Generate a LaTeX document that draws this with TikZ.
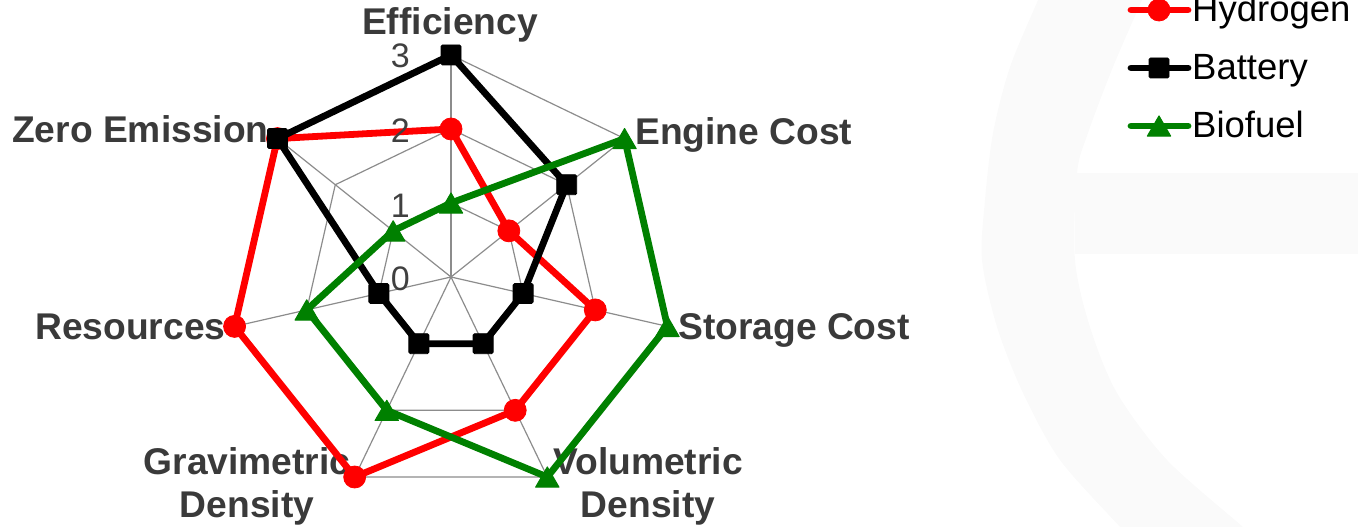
\documentclass[tikz,border=0pt]{standalone}
\usepackage{fontspec}
\setmainfont{Liberation Sans}
\usetikzlibrary{shapes.geometric}
\definecolor{hred}{RGB}{255,0,0}
\definecolor{bgreen}{RGB}{0,128,0}
\definecolor{gridc}{RGB}{140,140,140}
\definecolor{labc}{RGB}{58,58,58}
\definecolor{ticc}{RGB}{64,64,64}
\definecolor{bge}{RGB}{250,250,250}
\tikzset{
 gridline/.style={draw=gridc, line width=1.2pt},
 series/.style={line width=6.8pt, line join=round, line cap=round},
 hline/.style={series, draw=hred},
 bline/.style={series, draw=black},
 gline/.style={series, draw=bgreen},
 hmark/.style={circle, fill=hred, draw=hred, line width=0.8pt, minimum size=22pt, inner sep=0pt},
 bmark/.style={rectangle, rounded corners=1.5pt, fill=black, draw=black, line width=0.8pt, minimum size=20pt, inner sep=0pt},
 gmark/.style={regular polygon, regular polygon sides=3, fill=bgreen, draw=bgreen, line join=round, line width=1pt, minimum size=27pt, inner sep=0pt, yshift=-3.4pt},
 axlab/.style={font=\fontsize{37.2}{43}\selectfont\bfseries, text=labc, inner sep=0pt},
 ticklab/.style={font=\fontsize{34}{40}\selectfont, text=ticc, inner sep=0pt, anchor=east},
 leglab/.style={font=\fontsize{36.5}{43}\selectfont, text=black, inner sep=0pt, anchor=base west},
}
\newcommand{\radpt}[3]{\path (C) ++({90-#2*360/7}:{74*#3}) coordinate (#1);}
\begin{document}
\begin{tikzpicture}[x=1pt,y=1pt]
\useasboundingbox (0,0) rectangle (1358,527);
\clip (0,0) rectangle (1358,527);
% faint background "e"
\fill[bge] plot[smooth] coordinates {(1052,560) (1038,527) (1010,460) (993,394) (985,327) (982,267) (997,200) (1023,134) (1060,67) (1120,0) (1142,-25)}
  -- plot[smooth] coordinates {(1271,-25) (1243,0) (1167,67) (1117,134) (1090,200) (1075,267) (1077,354) (1088,394) (1113,460) (1142,527) (1156,560)} -- cycle;
\fill[bge] (1075,273) rectangle (1358,354);
% grid
\coordinate (C) at (451,250);
\foreach \r in {1,2,3}{
  \foreach \k in {0,...,6}{
    \path (C) ++({90-\k*360/7}:{74*\r}) coordinate (L\r-\k);
  }
}
\foreach \r in {1,2,3}{
  \draw[gridline] (L\r-0) -- (L\r-1) -- (L\r-2) -- (L\r-3) -- (L\r-4) -- (L\r-5) -- (L\r-6) -- cycle;
}
\foreach \k in {0,...,6}{
  \draw[gridline] (C) -- (L3-\k);
}
% axis labels
\node[axlab, anchor=base] (effl) at (450,492) {Efficiency};
\node[axlab, anchor=base west] (engl) at (635,382) {Engine Cost};
\node[axlab, anchor=base west] (stol) at (678,187) {Storage Cost};
\node[axlab, anchor=base] (voll1) at (648,52) {Volumetric};
\node[axlab, anchor=base] (voll2) at (648,9) {Density};
\node[axlab, anchor=base] (gral1) at (247,52) {Gravimetric};
\node[axlab, anchor=base] (gral2) at (247,9) {Density};
\node[axlab, anchor=base west] (resl) at (35,187) {Resources};
\node[axlab, anchor=base west] (zerl) at (12,384) {Zero Emission};
% data points
\radpt{h0}{0}{2}\radpt{h1}{1}{1}\radpt{h2}{2}{2}\radpt{h3}{3}{2}\radpt{h4}{4}{3}\radpt{h5}{5}{3}\radpt{h6}{6}{3}
\radpt{b0}{0}{3}\radpt{b1}{1}{2}\radpt{b2}{2}{1}\radpt{b3}{3}{1}\radpt{b4}{4}{1}\radpt{b5}{5}{1}\radpt{b6}{6}{3}
\radpt{g0}{0}{1}\radpt{g1}{1}{3}\radpt{g2}{2}{3}\radpt{g3}{3}{3}\radpt{g4}{4}{2}\radpt{g5}{5}{2}\radpt{g6}{6}{1}
% Hydrogen
\draw[hline] (h0) -- (h1) -- (h2) -- (h3) -- (h4) -- (h5) -- (h6) -- cycle;
\foreach \k in {0,...,6}{ \node[hmark] (hm\k) at (h\k) {}; }
% Battery
\draw[bline] (b0) -- (b1) -- (b2) -- (b3) -- (b4) -- (b5) -- (b6) -- cycle;
\foreach \k in {0,...,6}{ \node[bmark] (bm\k) at (b\k) {}; }
% Biofuel
\draw[gline] (g0) -- (g1) -- (g2) -- (g3) -- (g4) -- (g5) -- (g6) -- cycle;
\foreach \k in {0,...,6}{ \node[gmark] (gm\k) at (g\k) {}; }
% tick labels
\node[ticklab] (t0) at (410,248) {0};
\node[ticklab] (t1) at (410,321) {1};
\node[ticklab] (t2) at (410,396) {2};
\node[ticklab] (t3) at (410,471) {3};
% legend
\coordinate (lh1) at (1131,517); \coordinate (lh2) at (1188,517);
\coordinate (lb1) at (1131,459); \coordinate (lb2) at (1188,459);
\coordinate (lg1) at (1131,401); \coordinate (lg2) at (1188,401);
\draw[hline] (lh1) -- (lh2);
\node[hmark] (lhm) at (1159,517) {};
\draw[bline] (lb1) -- (lb2);
\node[bmark] (lbm) at (1159,459) {};
\draw[gline] (lg1) -- (lg2);
\node[gmark] (lgm) at (1159,401) {};
\node[leglab] (lht) at (1192,505) {Hydrogen};
\node[leglab] (lbt) at (1192,447) {Battery};
\node[leglab] (lgt) at (1192,389) {Biofuel};
\end{tikzpicture}
\end{document}
